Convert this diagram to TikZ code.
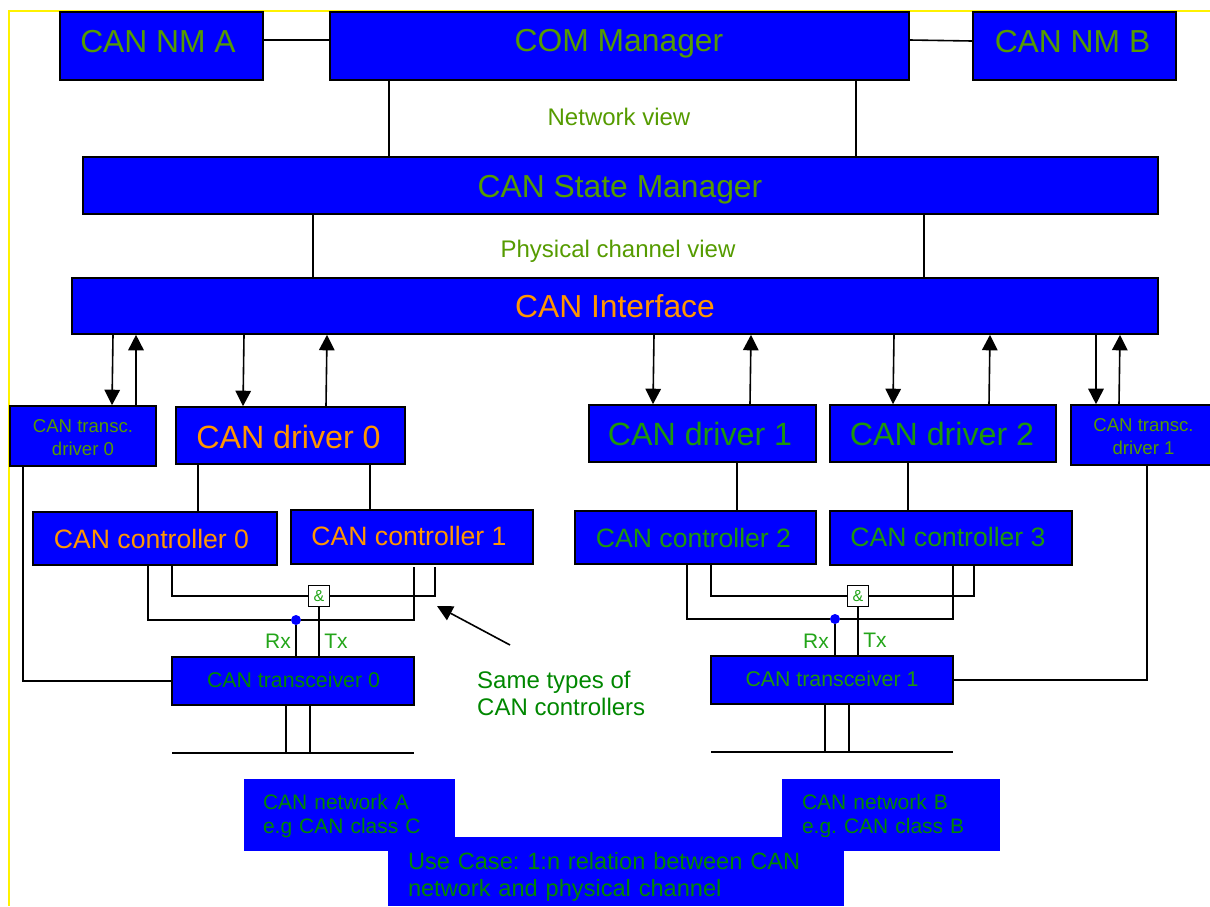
\documentclass[tikz,border=0pt]{standalone}
\usepackage{fontspec}
\setmainfont{Liberation Sans}
\usetikzlibrary{arrows.meta}
\definecolor{canblue}{RGB}{0,0,255}
\definecolor{oliveg}{RGB}{85,155,0}
\definecolor{midg}{RGB}{30,150,10}
\definecolor{darkg}{RGB}{0,135,0}
\definecolor{lightg}{RGB}{35,165,25}
\definecolor{canorange}{RGB}{255,150,0}
\newcommand{\nudge}[3]{\raisebox{#2pt}[\height][\depth]{\kern#1pt #3\kern-#1pt}}
\begin{document}
\frenchspacing
\begin{tikzpicture}[x=1pt, y=-1pt]
    % Styles
    \tikzstyle{canbox} = [rectangle, draw=black, line width=1.6pt, fill=canblue, text=oliveg, inner sep=0pt, align=center]
    \tikzstyle{big} = [font=\fontsize{31.8}{38}\selectfont]
    \tikzstyle{driver} = [font=\fontsize{32.2}{38}\selectfont]
    \tikzstyle{ctrl} = [font=\fontsize{26.6}{32}\selectfont]
    \tikzstyle{small} = [font=\fontsize{18.6}{23}\selectfont]
    \tikzstyle{trcv} = [font=\fontsize{21.3}{26}\selectfont]
    \tikzstyle{netbox} = [rectangle, fill=canblue, text=darkg, inner xsep=20pt, inner ysep=0pt, align=left]
    \tikzstyle{view} = [text=oliveg, inner sep=0pt, font=\fontsize{24}{28}\selectfont]
    \tikzstyle{andbox} = [rectangle, draw=black, line width=1.8pt, fill=white, text=lightg, inner sep=0pt, minimum size=21pt, font=\fontsize{16}{18}\selectfont]
    \tikzstyle{dotnode} = [circle, fill=canblue, inner sep=0pt, minimum size=10pt]
    \tikzstyle{pin} = [text=lightg, inner sep=0pt, font=\fontsize{21}{24}\selectfont]
    \tikzstyle{wire} = [black, line width=1.6pt]
    \tikzstyle{arrow} = [black, line width=1.6pt, -{Triangle[length=15.5pt, width=15.5pt]}]

    % Frame
    \useasboundingbox (0,0) rectangle (1210,906);
    \draw [yellow, line width=1.6pt] (9,906) -- (9,11) -- (1210,11);

    % Nodes
    \node (nma)   [canbox, big, minimum width=203pt, minimum height=68pt] at (161.5,46) {\nudge{-3.5}{4.5}{CAN NM A}};
    \node (com)   [canbox, big, minimum width=579pt, minimum height=68pt] at (619.5,46) {\nudge{-0.5}{2}{COM Manager}};
    \node (nmb)   [canbox, big, minimum width=203pt, minimum height=68pt] at (1074.5,46) {\nudge{-2}{4.5}{CAN NM B}};
    \node (state) [canbox, big, minimum width=1075pt, minimum height=57pt] at (620.5,185.5) {\nudge{-0.5}{-4}{CAN State Manager}};
    \node (iface) [canbox, big, text=canorange, minimum width=1086pt, minimum height=56pt] at (615,306) {CAN Interface};

    \node (trd0) [canbox, small, minimum width=146pt, minimum height=60pt] at (83,436) {\nudge{0}{-3}{\begin{tabular}{@{}c@{}}CAN transc.\\driver 0\end{tabular}}};
    \node (drv0) [canbox, driver, text=canorange, minimum width=229pt, minimum height=57pt] at (290.5,435.5) {\nudge{-2}{-1.5}{CAN driver 0}};
    \node (drv1) [canbox, driver, text=midg, minimum width=227pt, minimum height=57pt] at (702.5,433.5) {\nudge{-2.5}{0}{CAN driver 1}};
    \node (drv2) [canbox, driver, text=midg, minimum width=226pt, minimum height=57pt] at (943,433.5) {\nudge{-1}{0}{CAN driver 2}};
    \node (trd1) [canbox, small, minimum width=145pt, minimum height=60pt] at (1143.5,435) {\nudge{0}{-3}{\begin{tabular}{@{}c@{}}CAN transc.\\driver 1\end{tabular}}};

    \node (ctl0) [canbox, ctrl, text=canorange, minimum width=244pt, minimum height=53pt] at (155,538.5) {\nudge{-3.5}{0}{CAN controller 0}};
    \node (ctl1) [canbox, ctrl, text=canorange, minimum width=242pt, minimum height=54pt] at (412,537) {\nudge{-3}{1}{CAN controller 1}};
    \node (ctl2) [canbox, ctrl, text=midg, minimum width=241pt, minimum height=53pt] at (695.5,537.5) {\nudge{-2}{0}{CAN controller 2}};
    \node (ctl3) [canbox, ctrl, text=midg, minimum width=242pt, minimum height=54pt] at (951,538) {\nudge{-3}{1}{CAN controller 3}};

    \node (and0) [andbox] at (319,596) {\&};
    \node (and1) [andbox] at (858,596) {\&};
    \node (dot0) [dotnode] at (296,620) {};
    \node (dot1) [dotnode] at (835,619) {};

    \node (rx0) [pin] at (278,641.5) {Rx};
    \node (tx0) [pin] at (336,641.5) {Tx};
    \node (rx1) [pin] at (816,641) {Rx};
    \node (tx1) [pin] at (875,640.5) {Tx};

    \node (tcv0) [canbox, trcv, text=darkg, minimum width=242pt, minimum height=48pt] at (293,681) {\nudge{0.5}{1}{CAN transceiver 0}};
    \node (tcv1) [canbox, trcv, text=midg, minimum width=242pt, minimum height=48pt] at (832,680) {\nudge{0}{1}{CAN transceiver 1}};

    \node (neta) [netbox, minimum width=211pt, minimum height=72pt, text width=171pt, font=\fontsize{21}{24}\selectfont] at (349.5,815) {\nudge{-1}{-2}{\begin{tabular}{@{}l@{}}CAN network A\\e.g CAN class C\end{tabular}}};
    \node (netb) [netbox, minimum width=218pt, minimum height=72pt, text width=178pt, font=\fontsize{21}{24}\selectfont] at (891,815) {\nudge{0}{-2}{\begin{tabular}{@{}l@{}}CAN network B\\e.g. CAN class B\end{tabular}}};
    \node (usec) [netbox, minimum width=456pt, minimum height=69pt, text width=416pt, font=\fontsize{23.6}{27}\selectfont] at (616,871.5) {\nudge{0}{-6}{\begin{tabular}{@{}l@{}}Use Case: 1:n relation between CAN\\network and physical channel\end{tabular}}};

    \node (netview) [view] at (619,117) {Network view};
    \node (phyview) [view] at (618,251) {Physical channel view};
    \node (same) [view, text=darkg, align=left, font=\fontsize{24}{27}\selectfont, anchor=west] at (477,693.5) {Same types of\\CAN controllers};

    % Free ends
    \coordinate (enda0) at (414,567);
    \coordinate (enda1) at (435,567);
    \coordinate (busa0) at (172,753);
    \coordinate (busa1) at (414,753);
    \coordinate (busb0) at (711,752);
    \coordinate (busb1) at (953,752);
    \coordinate (tail) at (510,645);
    \coordinate (head) at (437,606);

    % Upper wires
    \draw [wire] (nma.east |- 0,40) -- (com.west |- 0,40);
    \draw [wire] (com.east |- 0,40) -- (nmb.west |- 0,41);
    \draw [wire] (com.south -| 389,0) -- (state.north -| 389,0);
    \draw [wire] (com.south -| 856,0) -- (state.north -| 856,0);
    \draw [wire] (state.south -| 313,0) -- (iface.north -| 313,0);
    \draw [wire] (state.south -| 924,0) -- (iface.north -| 924,0);

    % Arrows
    \draw [arrow] (iface.south -| 113,0) -- (trd0.north -| 112,0);
    \draw [arrow] (trd0.north -| 136,0) -- (iface.south -| 136,0);
    \draw [arrow] (iface.south -| 244,0) -- (drv0.north -| 243,0);
    \draw [arrow] (drv0.north -| 326,0) -- (iface.south -| 327,0);
    \draw [arrow] (iface.south -| 654,0) -- (drv1.north -| 653,0);
    \draw [arrow] (drv1.north -| 750,0) -- (iface.south -| 751,0);
    \draw [arrow] (iface.south -| 894,0) -- (drv2.north -| 893,0);
    \draw [arrow] (drv2.north -| 989,0) -- (iface.south -| 990,0);
    \draw [arrow] (iface.south -| 1096,0) -- (trd1.north -| 1096,0);
    \draw [arrow] (trd1.north -| 1119,0) -- (iface.south -| 1120,0);
    \draw [arrow] (tail) -- (head);

    % Lower wires
    \draw [wire] (drv0.south -| 198,0) -- (ctl0.north -| 198,0);
    \draw [wire] (drv0.south -| 370,0) -- (ctl1.north -| 370,0);
    \draw [wire] (drv1.south -| 737,0) -- (ctl2.north -| 737,0);
    \draw [wire] (drv2.south -| 908,0) -- (ctl3.north -| 908,0);
    \draw [wire] (trd0.south -| 23,0) |- (tcv0.west);
    \draw [wire] (trd1.south -| 1147,0) |- (tcv1.east);

    \draw [wire] (ctl0.south -| 172,0) |- (and0.west);
    \draw [wire] (and0.east) -| (enda1);
    \draw [wire] (ctl0.south -| 148,0) |- (dot0.west);
    \draw [wire] (dot0.east) -| (enda0);
    \draw [wire] (dot0.south) -- (tcv0.north -| dot0.south);
    \draw [wire] (and0.south) -- (tcv0.north -| and0.south);

    \draw [wire] (ctl2.south -| 711,0) |- (and1.west);
    \draw [wire] (and1.east) -| (ctl3.south -| 974,0);
    \draw [wire] (ctl2.south -| 687,0) |- (dot1.west);
    \draw [wire] (dot1.east) -| (ctl3.south -| 953,0);
    \draw [wire] (dot1.south) -- (tcv1.north -| dot1.south);
    \draw [wire] (and1.south) -- (tcv1.north -| and1.south);

    % Bus lines
    \draw [wire] (busa0) -- (busa1);
    \draw [wire] (busb0) -- (busb1);
    \draw [wire] (tcv0.south -| 286,0) -- (busa0 -| 286,0);
    \draw [wire] (tcv0.south -| 310,0) -- (busa0 -| 310,0);
    \draw [wire] (tcv1.south -| 825,0) -- (busb0 -| 825,0);
    \draw [wire] (tcv1.south -| 849,0) -- (busb0 -| 849,0);
\end{tikzpicture}
\end{document}
